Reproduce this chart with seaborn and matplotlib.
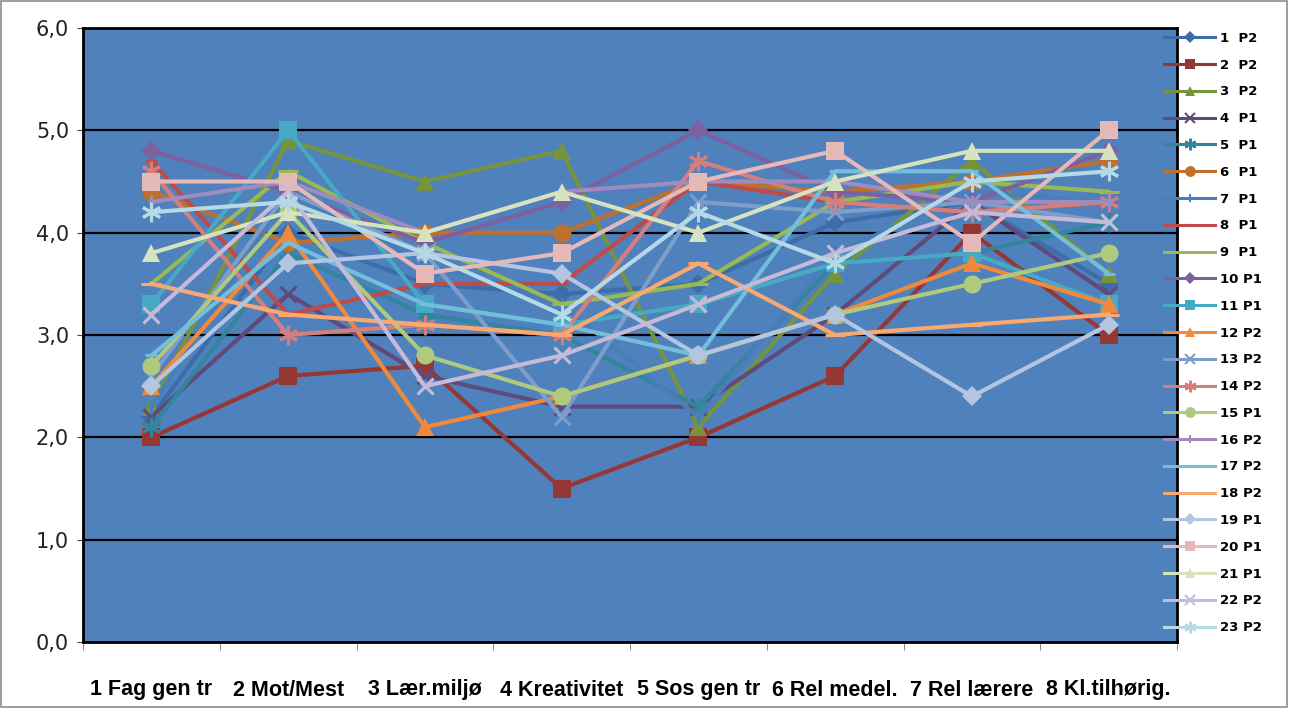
import numpy as np
import pandas as pd
import matplotlib
matplotlib.use("Agg")
import matplotlib.pyplot as plt
import matplotlib.lines as mlines
import matplotlib.patches as mpatches
import seaborn as sns

# ------------------------------#
# Data
categories = ["1 Fag gen tr", "2 Mot/Mest", "3 Lær.miljø", "4 Kreativitet",
              "5 Sos gen tr", "6 Rel medel.", "7 Rel lærere", "8 Kl.tilhørig."]

series_names = ["1  P2", "2  P2", "3  P2", "4  P1", "5  P1", "6  P1", "7  P1", "8  P1",
                "9  P1", "10 P1", "11 P1", "12 P2", "13 P2", "14 P2", "15 P1", "16 P2",
                "17 P2", "18 P2", "19 P1", "20 P1", "21 P1", "22 P2", "23 P2"]

s01 = [2.2, 4.0, 3.5, 3.4, 3.5, 4.1, 4.3, 3.5]
s02 = [2.0, 2.6, 2.7, 1.5, 2.0, 2.6, 4.0, 3.0]
s03 = [2.3, 4.9, 4.5, 4.8, 2.1, 3.6, 4.7, 3.6]
s04 = [2.2, 3.4, 2.6, 2.3, 2.3, 3.2, 4.3, 3.4]
s05 = [2.1, 3.8, 3.2, 3.0, 2.3, 3.7, 3.8, 4.1]
s06 = [4.4, 3.9, 4.0, 4.0, 4.5, 4.4, 4.5, 4.7]
s07 = [2.3, 4.4, 3.7, 3.3, 2.2, 3.8, 4.4, 4.3]
s08 = [4.7, 3.2, 3.5, 3.5, 4.5, 4.3, 4.2, 4.3]
s09 = [3.5, 4.6, 3.9, 3.3, 3.5, 4.3, 4.5, 4.4]
s10 = [4.8, 4.4, 3.9, 4.3, 5.0, 4.4, 4.3, 4.8]
s11 = [3.3, 5.0, 3.3, 3.1, 3.3, 3.7, 3.8, 3.3]
s12 = [2.5, 4.0, 2.1, 2.4, 2.8, 3.2, 3.7, 3.3]
s13 = [2.6, 4.4, 3.8, 2.2, 4.3, 4.2, 4.3, 4.1]
s14 = [4.6, 3.0, 3.1, 3.0, 4.7, 4.3, 4.2, 4.3]
s15 = [2.7, 4.2, 2.8, 2.4, 2.8, 3.2, 3.5, 3.8]
s16 = [4.3, 4.5, 4.0, 4.4, 4.5, 4.5, 4.3, 4.3]
s17 = [2.8, 3.9, 3.3, 3.1, 2.8, 4.6, 4.6, 3.6]
s18 = [3.5, 3.2, 3.1, 3.0, 3.7, 3.0, 3.1, 3.2]
s19 = [2.5, 3.7, 3.8, 3.6, 2.8, 3.2, 2.4, 3.1]
s20 = [4.5, 4.5, 3.6, 3.8, 4.5, 4.8, 3.9, 5.0]
s21 = [3.8, 4.2, 4.0, 4.4, 4.0, 4.5, 4.8, 4.8]
s22 = [3.2, 4.4, 2.5, 2.8, 3.3, 3.8, 4.2, 4.1]
s23 = [4.2, 4.3, 3.8, 3.2, 4.2, 3.7, 4.5, 4.6]

all_values = [s01, s02, s03, s04, s05, s06, s07, s08, s09, s10, s11, s12,
              s13, s14, s15, s16, s17, s18, s19, s20, s21, s22, s23]

yticks = [0, 1, 2, 3, 4, 5, 6]
ytick_labels = ["0,0", "1,0", "2,0", "3,0", "4,0", "5,0", "6,0"]
# ------------------------------#

# Excel 2007 style colours / markers
colors = ["#3D6DA9", "#953735", "#77933C", "#5F4A7B", "#31859C", "#C0702D",
          "#4A7EBB", "#BE4B48", "#98B954", "#7D60A0", "#46AAC5", "#F08A3A",
          "#7E9DCB", "#D47F7D", "#AFC97E", "#A08BBE", "#73BEDA", "#F9A86F",
          "#B3C5E0", "#E5B9B8", "#D5E3BE", "#C5BAD8", "#B5DAE5"]
asterisk = (6, 2, 0)
marker_cycle = ["D", "s", "^", "x", asterisk, "o", "|", "_", "_"]
size_cycle = [10, 13, 13, 12, 14, 13, 10, 8, 14]
markers = [marker_cycle[i % 9] for i in range(23)]
msizes = [size_cycle[i % 9] for i in range(23)]

rows = []
for name, vals in zip(series_names, all_values):
    for i, v in enumerate(vals):
        rows.append({"series": name, "pos": i, "value": v})
df = pd.DataFrame(rows)

fig = plt.figure(figsize=(12.9, 7.08), dpi=100)
ax = fig.add_axes([83 / 1290, 66 / 708, 1094 / 1290, 614 / 708])
ax.set_facecolor("#4F81BD")

for k, name in enumerate(series_names):
    sub = df[df["series"] == name]
    m = markers[k]
    line_art = m in ("x", "|", "_") or m == asterisk
    sns.lineplot(
        data=sub, x="pos", y="value", ax=ax, color=colors[k], lw=3,
        marker=m, markersize=msizes[k],
        markeredgecolor=colors[k],
        markeredgewidth=2.2 if line_art else 0,
        markerfacecolor=colors[k], sort=False, legend=False, zorder=3 + k * 0.01,
    )

ax.set_xlim(-0.5, 7.5)
ax.set_ylim(0, 6)
ax.set_yticks(yticks)
ax.set_yticklabels(ytick_labels, fontsize=15, color="#222222")
ax.set_xticks(range(len(categories)))
ax.set_xticklabels(categories, fontsize=15.5, fontweight="bold",
                   family=["Liberation Sans Narrow", "DejaVu Sans Condensed",
                           "Liberation Sans", "DejaVu Sans"])
ax.tick_params(axis="x", length=0, pad=27)
ax.set_xticks(np.arange(-0.5, 8, 1), minor=True)
ax.tick_params(axis="x", which="minor", length=6, direction="out", color="#777777")
ax.tick_params(axis="y", length=4, direction="out", color="#444444", pad=6)
ax.set_xlabel("")
ax.set_ylabel("")
ax.grid(False)
for y in yticks[1:-1]:
    ax.axhline(y, color="black", lw=1.6, zorder=1)
for sp in ax.spines.values():
    sp.set_color("black")
    sp.set_linewidth(2)

handles = []
for k, name in enumerate(series_names):
    m = markers[k]
    line_art = m in ("x", "|", "_") or m == asterisk
    handles.append(mlines.Line2D([], [], color=colors[k], lw=2.2, marker=m,
                                 markersize=msizes[k] * 0.6,
                                 markeredgecolor=colors[k],
                                 markeredgewidth=1.5 if line_art else 0,
                                 label=name))
leg = fig.legend(handles=handles, loc="upper left",
                 bbox_to_anchor=(1152 / 1290, 1 - 20 / 708),
                 frameon=False, handlelength=3.9, handletextpad=0.35,
                 labelspacing=1.045, prop={"weight": "bold", "size": 9.5})

fig.patches.append(mpatches.Rectangle((0.001, 0.001), 0.997, 0.997, transform=fig.transFigure,
                                      fill=False, edgecolor="#8C8C8C", lw=1.2))

fig.savefig("out.png", dpi=100)
